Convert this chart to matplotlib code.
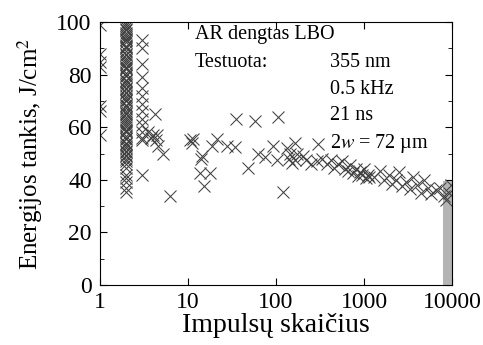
import matplotlib
matplotlib.use("Agg")
from matplotlib import pyplot as plt
from matplotlib.ticker import FixedLocator, NullFormatter

plt.rcParams['font.family'] = ['Liberation Serif', 'DejaVu Serif']
plt.rcParams['mathtext.fontset'] = 'stix'

# damage threshold tests: pulse count vs fluence (J/cm^2)
n_1 = [1, 1, 1, 1, 1, 1, 1]
f_1 = [99, 88, 85, 83, 68, 66, 57]

f_2 = [99.5, 99, 98, 97.5, 97, 96, 95, 94.5, 93.5, 93, 92.5, 91, 90.5, 90, 89,
       88, 87.5, 86.5, 85.5, 85, 84, 83, 82.5, 82, 80.5, 80, 79.5, 78, 77.5, 77,
       76, 75, 74.5, 73.5, 73, 72, 71, 70.5, 70, 68.5, 68, 67.5, 66, 65.5, 65,
       64, 63, 62.5, 61.5, 61, 60, 59, 58.5, 58, 56.5, 56, 55.5, 54, 53.5, 53,
       52, 51, 50.5, 49.5, 49, 48, 47, 46, 44.5, 42, 40.5, 39, 37, 35.5]
n_2 = [2] * len(f_2)

f_3 = [93, 90, 84, 79, 75, 72, 69, 66, 63, 61, 58, 56, 55, 42]
n_3 = [3] * len(f_3)

n_rest = [3.5, 3.8, 4.0, 4.2, 4.3, 4.5, 4.6, 5.2, 6.2,
          10.5, 11, 11.3, 14.4, 14, 13.6, 17.8, 15.2, 18.7, 21.3, 27.8, 34, 35,
          57.6, 105, 48, 62, 75, 92, 102, 120, 132, 143, 163, 163,
          140, 150, 175, 200, 220, 250, 300, 290, 330, 380, 420, 450, 500, 560,
          600, 650, 700, 750, 800, 850, 900, 950, 1000, 1050, 1100, 1150,
          1300, 1500, 1700, 1900, 2100, 2300, 2500, 2700, 3000, 3300, 3600,
          4000, 4400, 4800, 5300, 5800, 6500, 7300, 8000, 8600, 9300, 9800]
f_rest = [58, 56, 57, 65, 55, 57, 53, 50, 34,
          55, 54, 55.5, 49, 48, 42.6, 42.6, 37.6, 53, 55.5, 53, 52.5, 63,
          62.4, 64, 44.5, 50, 48.7, 53, 47.5, 35.4, 52, 50, 54, 47.5,
          48, 46.5, 50, 49, 47.5, 46, 53.6, 47, 48, 46, 47.5, 44.5, 46, 47,
          44, 43.5, 45.5, 42.5, 44, 41.5, 43, 42, 44, 40.5, 42, 41,
          41, 43.5, 40, 42, 38.5, 40, 43, 37.5, 39, 36.5, 41,
          38, 35, 40, 37, 34.5, 36, 37, 34, 32.5, 35, 38]

# samples that survived the full run
f_surv = [0.5, 3, 6, 9, 12, 15, 18, 21, 24, 27, 30, 33, 35.5, 37.5]
n_surv = [8900] * len(f_surv)

fig = plt.figure(figsize=(4.83, 3.45), dpi=100)
ax = fig.add_axes([0.207, 0.174, 0.729, 0.762])

ax.plot(n_surv, f_surv, linestyle='none', marker='s', markersize=6.5,
        color='#b4b4b4', markeredgewidth=0)

mk = dict(linestyle='none', marker='x', markersize=8.5, markeredgewidth=0.75,
          color='#404040')
ax.plot(n_1, f_1, **mk)
ax.plot(n_2, f_2, **mk)
ax.plot(n_3, f_3, **mk)
ax.plot(n_rest, f_rest, **mk)

ax.set_xscale('log')
ax.set_xlim(1, 10000)
ax.set_ylim(0, 100)
ax.set_xticks([1, 10, 100, 1000, 10000])
ax.set_xticklabels(['1', '10', '100', '1000', '10000'])
ax.xaxis.set_minor_formatter(NullFormatter())
ax.set_yticks([0, 20, 40, 60, 80, 100])
ax.yaxis.set_minor_locator(FixedLocator([10, 30, 50, 70, 90]))

ax.tick_params(which='both', direction='in', top=True, right=True,
               labelsize=17)
ax.tick_params(axis='x', pad=5)
ax.tick_params(axis='y', pad=6)
ax.tick_params(which='major', length=5, width=0.8)
ax.tick_params(which='minor', length=3, width=0.6)
for s in ax.spines.values():
    s.set_linewidth(0.8)

ax.set_xlabel('Impulsų skaičius', fontsize=20, labelpad=0)
ax.set_ylabel('Energijos tankis, J/cm$^2$', fontsize=18, labelpad=8)

txt = dict(transform=ax.transAxes, fontsize=14.5, va='center', ha='left')
ax.text(0.27, 0.951, 'AR dengtas LBO', **txt)
ax.text(0.27, 0.848, 'Testuota:', **txt)
ax.text(0.653, 0.848, '355 nm', **txt)
ax.text(0.653, 0.745, '0.5 kHz', **txt)
ax.text(0.653, 0.643, '21 ns', **txt)
ax.text(0.653, 0.540, '2$w$ = 72 µm', **txt)

fig.savefig('out.png', dpi=100)
